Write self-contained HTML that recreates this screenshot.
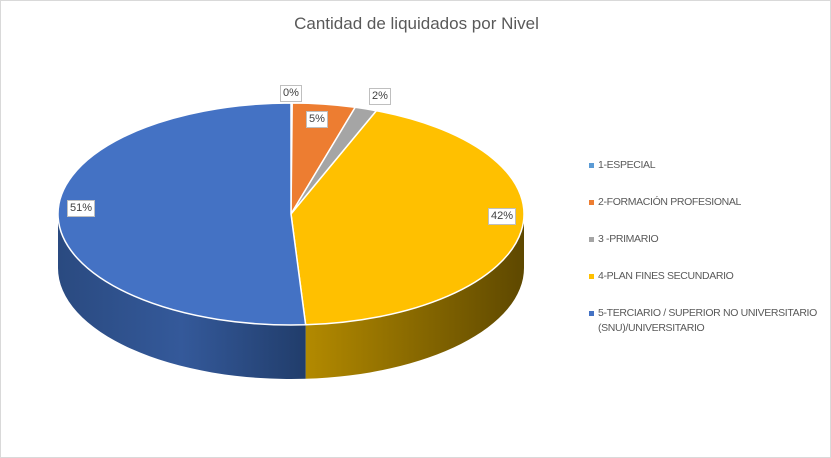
<!DOCTYPE html>
<html><head><meta charset="utf-8"><style>
body{margin:0;background:#fff}
#c{position:relative;width:829px;height:456px;border:1px solid #d9d9d9;overflow:hidden;font-family:"Liberation Sans",sans-serif}
.t{position:absolute;left:0;width:831px;top:13px;text-align:center;font-size:17px;color:#595959}
.lb{position:absolute;background:#fff;border:1px solid #bfbfbf;font-size:11px;color:#404040;padding:1px 2px;line-height:13px}
.lg{position:absolute;left:597px;font-size:10.5px;color:#595959;line-height:15px;white-space:nowrap;letter-spacing:-0.35px}
.lg i{position:absolute;left:-9px;top:5px;width:5px;height:5px}
</style></head><body><div id="c">
<div class="t">Cantidad de liquidados por Nivel</div>
<svg id="s" width="831" height="458" style="position:absolute;left:-1px;top:-1px">
<defs>
<linearGradient id="gy" x1="0" x2="1"><stop offset="0" stop-color="#b38a00"/><stop offset="1" stop-color="#5e4800"/></linearGradient>
<linearGradient id="gb" x1="0" x2="1"><stop offset="0" stop-color="#2a4a80"/><stop offset="0.5" stop-color="#34599a"/><stop offset="1" stop-color="#213d6b"/></linearGradient>
</defs>
</svg>
<div class="lb" style="left:279px;top:84px">0%</div>
<div class="lb" style="left:305px;top:110px">5%</div>
<div class="lb" style="left:368px;top:87px">2%</div>
<div class="lb" style="left:487px;top:207px">42%</div>
<div class="lb" style="left:66px;top:199px">51%</div>
<div class="lg" style="top:157px"><i style="background:#5b9bd5"></i>1-ESPECIAL</div>
<div class="lg" style="top:194px"><i style="background:#ed7d31"></i>2-FORMACIÓN PROFESIONAL</div>
<div class="lg" style="top:231px"><i style="background:#a5a5a5"></i>3 -PRIMARIO</div>
<div class="lg" style="top:268px"><i style="background:#ffc000"></i>4-PLAN FINES SECUNDARIO</div>
<div class="lg" style="top:305px"><i style="background:#4472c4"></i>5-TERCIARIO / SUPERIOR NO UNIVERSITARIO<br>(SNU)/UNIVERSITARIO</div>
</div>
<script>
var cx=291,cy=214,rx=233,ry=111,d=54,s=document.getElementById('s');
function P(t,o){t=t*Math.PI/180;return [cx+rx*Math.sin(t),cy-ry*Math.cos(t)+(o||0)];}
function add(dd,f,st){var p=document.createElementNS('http://www.w3.org/2000/svg','path');p.setAttribute('d',dd);p.setAttribute('fill',f);if(st){p.setAttribute('stroke','#fff');p.setAttribute('stroke-width','1.5');p.setAttribute('stroke-linejoin','round');}s.appendChild(p);}
function side(a,b,f){var A=P(a),B=P(b),C=P(b,d),D=P(a,d);
add('M'+A+' A'+rx+','+ry+' 0 0 1 '+B+' L'+C+' A'+rx+','+ry+' 0 0 0 '+D+'Z',f);}
function slice(a,b,f){var A=P(a),B=P(b);var l=(b-a)>180?1:0;
add('M'+cx+','+cy+' L'+A+' A'+rx+','+ry+' 0 '+l+' 1 '+B+'Z',f,1);}
side(90,176.4,'url(#gy)');side(176.4,270,'url(#gb)');
slice(0,0.3,'#5b9bd5');slice(0.3,16,'#ed7d31');slice(16,21.5,'#a5a5a5');slice(21.5,176.4,'#ffc000');slice(176.4,360,'#4472c4');
</script>
</body></html>
